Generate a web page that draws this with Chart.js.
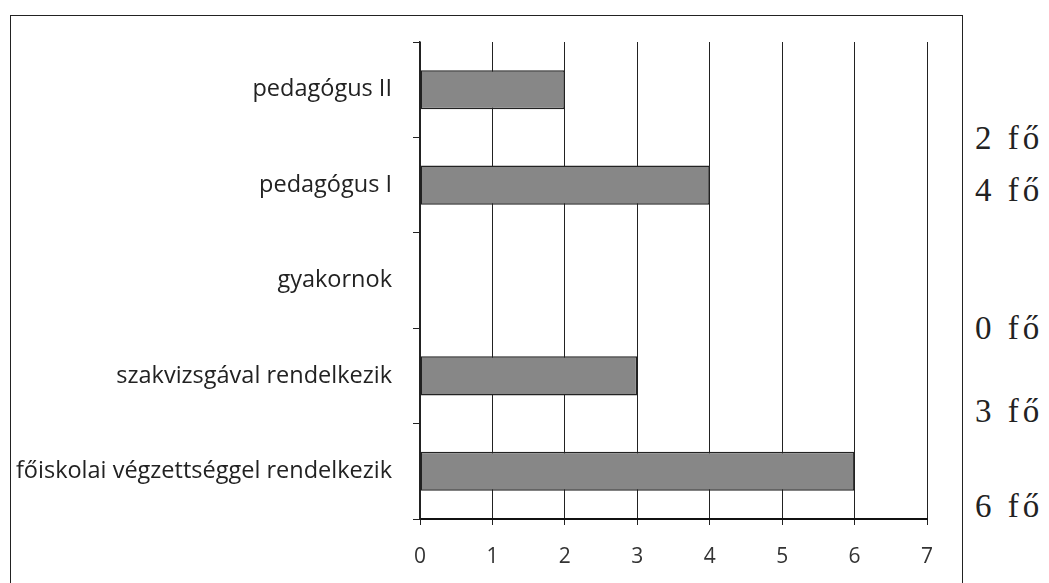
<!DOCTYPE html>
<html>
<head>
  <meta charset="UTF-8">
  <title>Végzettség szerinti megoszlás</title>
  <script src="https://cdn.jsdelivr.net/npm/chart.js"></script>
  <style>
    body {
      margin: 0;
      background: #fff;
      width: 1049px;
      height: 583px;
      overflow: hidden;
      position: relative;
      font-family: "Open Sans", Arial, sans-serif;
    }
    #box {
      position: absolute;
      left: 10px;
      top: 15px;
      width: 951px;
      height: 600px;
      border: 1px solid #222;
    }
    #chartWrap {
      position: absolute;
      left: 0;
      top: 0;
      width: 951px;
      height: 567px;
    }
    .fo {
      position: absolute;
      left: 975px;
      font-family: "Liberation Serif", "DejaVu Serif", serif;
      font-size: 33px;
      color: #222;
      line-height: 1;
      letter-spacing: 4px;
    }
  </style>
</head>
<body>
  <div id="box">
    <div id="chartWrap">
      <canvas id="eduChart"></canvas>
    </div>
  </div>
  <div id="side"></div>

  <script>
    const categories = [
      'pedagógus II',
      'pedagógus I',
      'gyakornok',
      'szakvizsgával rendelkezik',
      'főiskolai végzettséggel rendelkezik'
    ];
    const counts = [2, 4, 0, 3, 6];
    const xTicks = [0, 1, 2, 3, 4, 5, 6, 7];

    // side labels "N fő", in the order they appear down the page
    const sideTops = [122, 174, 312, 395, 490];
    const side = document.getElementById('side');
    counts.forEach((v, i) => {
      const d = document.createElement('div');
      d.className = 'fo';
      d.style.top = sideTops[i] + 'px';
      d.textContent = v + ' fő';
      side.appendChild(d);
    });

    new Chart(document.getElementById('eduChart'), {
      type: 'bar',
      data: {
        labels: categories,
        datasets: [{
          data: counts,
          backgroundColor: '#878787',
          borderColor: '#222',
          borderWidth: 1.5,
          borderSkipped: false,
          barPercentage: 0.41,
          categoryPercentage: 1
        }]
      },
      options: {
        indexAxis: 'y',
        responsive: true,
        maintainAspectRatio: false,
        animation: false,
        layout: {
          padding: { left: 0, right: 35, top: 26, bottom: 0 }
        },
        plugins: {
          legend: { display: false },
          tooltip: { enabled: false }
        },
        scales: {
          x: {
            min: 0,
            max: 7,
            afterBuildTicks: axis => {
              axis.ticks = xTicks.map(v => ({ value: v }));
            },
            afterFit: axis => { axis.height = 64; },
            grid: {
              color: '#222',
              lineWidth: 1,
              tickLength: 6
            },
            border: { color: '#111', width: 2 },
            ticks: {
              padding: 19,
              color: '#333',
              font: { family: '"Open Sans", Arial, sans-serif', size: 21 }
            }
          },
          y: {
            afterFit: axis => {
              axis.width = 409;
              axis.paddingTop = 0;
              axis.paddingBottom = 0;
            },
            grid: {
              drawOnChartArea: false,
              color: '#222',
              tickLength: 7,
              offset: true
            },
            border: { color: '#222', width: 1.5 },
            ticks: {
              padding: 21,
              color: '#222',
              font: { family: '"Open Sans", Arial, sans-serif', size: 23.5 }
            }
          }
        }
      }
    });
  </script>
</body>
</html>
